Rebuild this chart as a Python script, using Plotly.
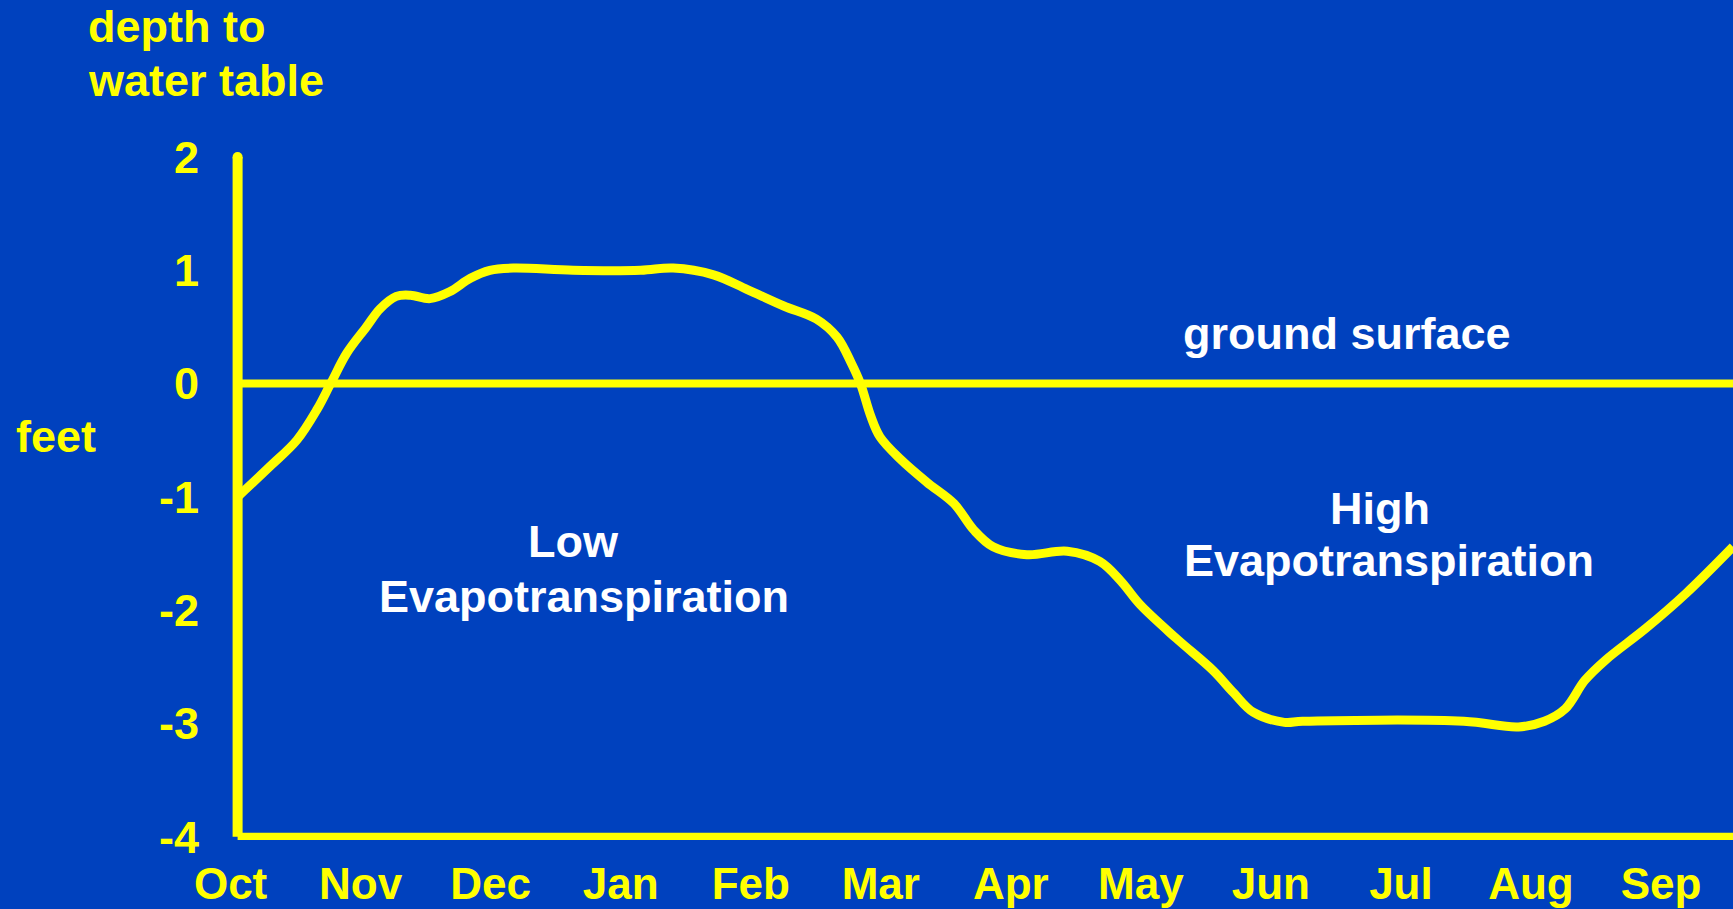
import plotly.graph_objects as go

# Monthly position (0 = start of Oct) and depth to water table in feet
month_pos = [0.0, 0.25, 0.455, 0.61, 0.72, 0.84, 0.99, 1.095, 1.22, 1.33, 1.48, 1.63,
             1.79, 1.94, 2.12, 2.58, 3.10, 3.35, 3.66, 3.92, 4.2, 4.45, 4.61, 4.72,
             4.79, 4.87, 4.94, 5.10, 5.30, 5.51, 5.66, 5.81, 6.07, 6.38, 6.63, 6.79,
             6.94, 7.22, 7.50, 7.66, 7.81, 8.05, 8.19, 9.43, 9.85, 10.05, 10.21, 10.36,
             10.52, 10.83, 11.14, 11.5]
depth_ft = [-1.0, -0.73, -0.50, -0.23, 0.01, 0.27, 0.50, 0.66, 0.77, 0.78, 0.75, 0.81,
            0.93, 1.0, 1.02, 1.00, 1.00, 1.02, 0.96, 0.83, 0.685, 0.57, 0.41, 0.18,
            0.0, -0.29, -0.47, -0.67, -0.87, -1.06, -1.29, -1.44, -1.51, -1.48, -1.57, -1.74,
            -1.95, -2.25, -2.53, -2.73, -2.90, -2.99, -2.98, -2.98, -3.03, -2.98, -2.87, -2.62,
            -2.44, -2.16, -1.85, -1.44]

months = ["Oct", "Nov", "Dec", "Jan", "Feb", "Mar", "Apr", "May", "Jun", "Jul", "Aug", "Sep"]
y_ticks = [2, 1, 0, -1, -2, -3, -4]

BG = "#0041BE"
YELLOW = "#FFFF00"
FONT = "Liberation Sans, Arial, sans-serif"

fig = go.Figure()

# ground surface
fig.add_trace(go.Scatter(x=[0, 11.5], y=[0, 0], mode="lines",
                         line=dict(color=YELLOW, width=8), hoverinfo="skip"))
# water table
fig.add_trace(go.Scatter(x=month_pos, y=depth_ft, mode="lines",
                         line=dict(color=YELLOW, width=9, shape="spline", smoothing=1.0)))
# rounded top of the vertical axis
fig.add_trace(go.Scatter(x=[0], y=[2], mode="markers",
                         marker=dict(color=YELLOW, size=10, line=dict(width=0)),
                         hoverinfo="skip", cliponaxis=False))

# axis lines
fig.add_shape(type="line", x0=0, x1=0, y0=-4, y1=2, xref="x", yref="y",
              line=dict(color=YELLOW, width=10))
fig.add_shape(type="line", x0=0, x1=11.5, y0=-4, y1=-4, xref="x", yref="y",
              line=dict(color=YELLOW, width=8))

bold = lambda s: f"<b>{s}</b>"

ann = [
    dict(text=bold("depth to"), x=86, y=26.5, color=YELLOW, xanchor="left"),
    dict(text=bold("water table"), x=86, y=80.7, color=YELLOW, xanchor="left"),
    dict(text=bold("feet"), x=13.5, y=436.6, color=YELLOW, xanchor="left"),
    dict(text=bold("Low"), x=573.6, y=541.6, color="white", xanchor="center"),
    dict(text=bold("Evapotranspiration"), x=583.6, y=596.8, color="white", xanchor="center"),
    dict(text=bold("High"), x=1380.4, y=508.4, color="white", xanchor="center"),
    dict(text=bold("Evapotranspiration"), x=1389.3, y=560.3, color="white", xanchor="center"),
    dict(text=bold("ground surface"), x=1347.3, y=333.8, color="white", xanchor="center"),
]

W, H = 1733, 909
ML, MR, MT, MB = 220, 0, 140, 69
pw, ph = W - ML - MR, H - MT - MB
for a in ann:
    fig.add_annotation(text=a["text"], xref="paper", yref="paper",
                       x=(a["x"] - ML) / pw, y=(H - MB - a["y"]) / ph,
                       xanchor=a["xanchor"], yanchor="middle", showarrow=False,
                       font=dict(family=FONT, size=45, color=a["color"]))

# pixel geometry: x=0 at 237.6px, 130px per month; y=2 at 157px, 113.3px per foot
x0_px, month_px = 237.6, 130.0
y2_px, foot_px = 157.0, 113.3
x_range = [-(x0_px - ML) / month_px, 11.5]
y_top = 2 + (y2_px - MT) / foot_px
y_bot = y_top - ph / foot_px

fig.update_layout(
    width=W, height=H,
    margin=dict(l=ML, r=MR, t=MT, b=MB, autoexpand=False),
    paper_bgcolor=BG, plot_bgcolor=BG,
    showlegend=False,
    xaxis=dict(range=x_range, showgrid=False, zeroline=False, showline=False,
               automargin=False,
               tickmode="array", tickvals=list(range(12)), ticktext=[bold(m) for m in months],
               ticks="outside", ticklen=5, tickcolor="rgba(0,0,0,0)",
               ticklabelshift=-7,
               tickfont=dict(family=FONT, size=44, color=YELLOW)),
    yaxis=dict(range=[y_bot, y_top], showgrid=False, zeroline=False, showline=False,
               automargin=False,
               tickmode="array", tickvals=y_ticks, ticktext=[bold(str(v)) for v in y_ticks],
               ticks="outside", ticklen=11, tickcolor="rgba(0,0,0,0)",
               tickfont=dict(family=FONT, size=45, color=YELLOW)),
)

fig.write_html("out.html")
